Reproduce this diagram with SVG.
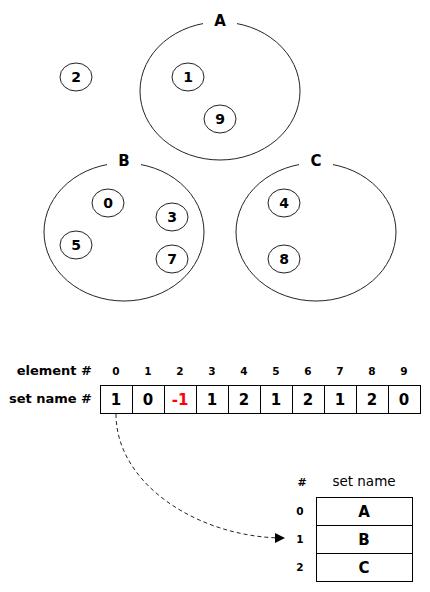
<svg xmlns="http://www.w3.org/2000/svg" width="430" height="592" viewBox="0 0 430 592">
<style>
text{font-family:"DejaVu Sans","Verdana",sans-serif;fill:#000;text-anchor:middle}
.set{fill:none;stroke:#222;stroke-width:1}
.el{fill:#fff;stroke:#222;stroke-width:1}
.lbl{font-size:15px;font-weight:bold}
.num{font-size:14px;font-weight:bold}
.cell{fill:#fff;stroke:#000;stroke-width:1}
.val{font-size:15px;font-weight:bold}
.idx{font-size:10.5px;font-weight:bold}
.hdr{font-size:13px;font-weight:bold;text-anchor:end}
</style>
<defs>
<marker id="arr" markerWidth="10" markerHeight="10" refX="9" refY="5" orient="auto" markerUnits="userSpaceOnUse">
<path d="M0,0 L10,5 L0,10 Z" fill="#000"/>
</marker>
</defs>
<g id="setA">
<ellipse class="set" cx="220" cy="91" rx="80" ry="69"/>
<rect x="203" y="12" width="34" height="14" fill="#fff"/>
<text class="lbl" x="220" y="26">A</text>
</g>
<g id="setB">
<ellipse class="set" cx="124" cy="232" rx="80" ry="69"/>
<rect x="107" y="153" width="34" height="14" fill="#fff"/>
<text class="lbl" x="124" y="166">B</text>
</g>
<g id="setC">
<ellipse class="set" cx="316" cy="232" rx="80" ry="69"/>
<rect x="299" y="153" width="34" height="14" fill="#fff"/>
<text class="lbl" x="316" y="166">C</text>
</g>
<g id="e2"><ellipse class="el" cx="76" cy="77" rx="16" ry="14"/><text class="num" x="76" y="82">2</text></g>
<g id="e1"><ellipse class="el" cx="188" cy="77" rx="16" ry="14"/><text class="num" x="188" y="82">1</text></g>
<g id="e9"><ellipse class="el" cx="220" cy="119" rx="16" ry="14"/><text class="num" x="220" y="124">9</text></g>
<g id="e0"><ellipse class="el" cx="108" cy="203" rx="16" ry="14"/><text class="num" x="108" y="208">0</text></g>
<g id="e3"><ellipse class="el" cx="172" cy="217" rx="16" ry="14"/><text class="num" x="172" y="222">3</text></g>
<g id="e5"><ellipse class="el" cx="76" cy="245" rx="16" ry="14"/><text class="num" x="76" y="250">5</text></g>
<g id="e7"><ellipse class="el" cx="172" cy="259" rx="16" ry="14"/><text class="num" x="172" y="264">7</text></g>
<g id="e4"><ellipse class="el" cx="284" cy="203" rx="16" ry="14"/><text class="num" x="284" y="208">4</text></g>
<g id="e8"><ellipse class="el" cx="284" cy="259" rx="16" ry="14"/><text class="num" x="284" y="264">8</text></g>
<g id="array">
<text class="hdr" x="92" y="375">element #</text>
<text class="hdr" x="92" y="403">set name #</text>
<text class="idx" x="116" y="375">0</text><text class="idx" x="148" y="375">1</text><text class="idx" x="180" y="375">2</text><text class="idx" x="212" y="375">3</text><text class="idx" x="244" y="375">4</text><text class="idx" x="276" y="375">5</text><text class="idx" x="308" y="375">6</text><text class="idx" x="340" y="375">7</text><text class="idx" x="372" y="375">8</text><text class="idx" x="404" y="375">9</text>
<rect class="cell" x="100.5" y="385.5" width="32" height="28"/><rect class="cell" x="132.5" y="385.5" width="32" height="28"/><rect class="cell" x="164.5" y="385.5" width="32" height="28"/><rect class="cell" x="196.5" y="385.5" width="32" height="28"/><rect class="cell" x="228.5" y="385.5" width="32" height="28"/><rect class="cell" x="260.5" y="385.5" width="32" height="28"/><rect class="cell" x="292.5" y="385.5" width="32" height="28"/><rect class="cell" x="324.5" y="385.5" width="32" height="28"/><rect class="cell" x="356.5" y="385.5" width="32" height="28"/><rect class="cell" x="388.5" y="385.5" width="32" height="28"/>
<text class="val" x="116" y="405">1</text><text class="val" x="148" y="405">0</text><text class="val" x="180" y="405" style="fill:#ff0000">-1</text><text class="val" x="212" y="405">1</text><text class="val" x="244" y="405">2</text><text class="val" x="276" y="405">1</text><text class="val" x="308" y="405">2</text><text class="val" x="340" y="405">1</text><text class="val" x="372" y="405">2</text><text class="val" x="404" y="405">0</text>
</g>
<g id="names">
<text class="idx" x="302" y="486" style="font-size:11px">#</text>
<text x="364" y="486" style="font-size:13.5px">set name</text>
<rect class="cell" x="316.5" y="497.5" width="96" height="28"/>
<rect class="cell" x="316.5" y="525.5" width="96" height="28"/>
<rect class="cell" x="316.5" y="553.5" width="96" height="28"/>
<text class="idx" x="300" y="515">0</text><text class="idx" x="300" y="543">1</text><text class="idx" x="300" y="571">2</text>
<text class="val" x="364" y="517">A</text><text class="val" x="364" y="545">B</text><text class="val" x="364" y="573">C</text>
</g>
<g id="connectors">
<path d="M116,414 C116,485 200,538 284,538" fill="none" stroke="#222" stroke-width="1" stroke-dasharray="4,3" marker-end="url(#arr)"/>
</g>
</svg>
